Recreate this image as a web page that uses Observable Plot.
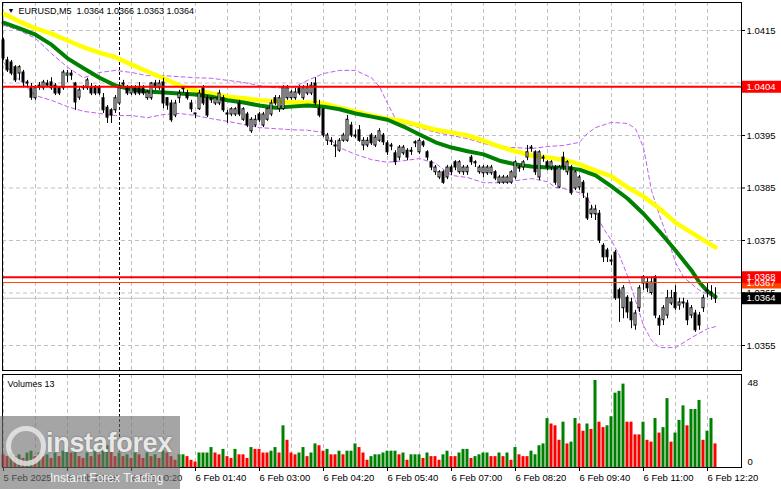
<!DOCTYPE html>
<html>
<head>
<meta charset="utf-8">
<script src="https://cdn.jsdelivr.net/npm/d3@7"></script>
<script src="https://cdn.jsdelivr.net/npm/@observablehq/plot@0.6"></script>
<style>
  body { margin: 0; background: #fff; }
  #chart { position: relative; width: 781px; height: 489px; overflow: hidden; font-family: "Liberation Sans", Arial, sans-serif; background: #fff; }
  #price { position: absolute; left: 0; top: 0; }
  #vol { position: absolute; left: 0; top: 372px; }
  #wm { position: absolute; left: 0; top: 416px; width: 180px; height: 73px; background: rgba(110,110,110,0.62); }
  #wm .logo { position: absolute; left: 6px; top: 10px; width: 30px; height: 30px; border: 5px solid rgba(235,235,235,0.8); border-radius: 50%; }
  #wm .big { position: absolute; left: 46px; top: 12px; font: bold 27px "Liberation Sans", Arial, sans-serif; color: rgba(255,255,255,0.85); text-shadow: 0 0 2px #666; letter-spacing: -0.3px; }
  #wm .small { position: absolute; left: 50px; top: 55px; font: 12px "Liberation Sans", Arial, sans-serif; color: rgba(255,255,255,0.9); }
</style>
</head>
<body>
<div id="chart">
  <div id="price"></div>
  <div id="vol"></div>
  <div id="wm"><div class="logo"></div><div class="big">instaforex</div><div class="small">Instant Forex Trading</div></div>
</div>
<script>
// ---- data (EURUSD, M5) ----
const symbolName = "EURUSD,M5";
const candleOpen = [
1.04131,1.04093,1.04089,1.04080,1.04068,1.04070,1.04051,1.04040,1.04021,1.04045,
1.04040,1.04049,1.04051,1.04045,1.04040,1.04040,1.04064,1.04068,1.04049,1.04022,
1.04040,1.04040,1.04041,1.04041,1.04041,1.04021,1.04003,1.03998,1.03998,1.04011,
1.04049,1.04040,1.04030,1.04040,1.04041,1.04040,1.04021,1.04021,1.04049,1.04040,
1.04051,1.04021,1.04011,1.03988,1.04021,1.04040,1.04030,1.04011,1.03992,1.04000,
1.04040,1.04021,1.04021,1.04011,1.04011,1.04021,1.03992,1.03990,1.03990,1.04011,
1.03980,1.03990,1.03958,1.03969,1.03990,1.03969,1.03980,1.03990,1.04021,1.04000,
1.04000,1.04021,1.04021,1.04021,1.04040,1.04021,1.04030,1.04030,1.04049,1.04001,
1.04000,1.03940,1.03940,1.03931,1.03921,1.03940,1.03940,1.03969,1.03950,1.03960,
1.03931,1.03931,1.03950,1.03931,1.03940,1.03950,1.03935,1.03931,1.03916,1.03908,
1.03916,1.03921,1.03921,1.03937,1.03918,1.03937,1.03918,1.03899,1.03880,1.03870,
1.03880,1.03870,1.03889,1.03899,1.03880,1.03880,1.03880,1.03908,1.03899,1.03880,
1.03878,1.03878,1.03878,1.03880,1.03860,1.03860,1.03860,1.03860,1.03870,1.03889,
1.03889,1.03908,1.03927,1.03918,1.03870,1.03908,1.03899,1.03889,1.03889,1.03851,
1.03908,1.03880,1.03889,1.03849,1.03851,1.03860,1.03830,1.03800,1.03800,1.03801,
1.03740,1.03731,1.03712,1.03727,1.03655,1.03621,1.03641,1.03632,1.03588,1.03621,
1.03668,1.03670,1.03650,1.03680,1.03601,1.03598,1.03607,1.03630,1.03650,1.03626,
1.03632,1.03630,1.03607,1.03611,1.03607,1.03621,1.03655,1.03651,1.03640];
const candleHigh = [
1.04135,1.04099,1.04093,1.04083,1.04083,1.04074,1.04055,1.04049,1.04045,1.04051,
1.04055,1.04055,1.04060,1.04049,1.04041,1.04074,1.04074,1.04074,1.04051,1.04041,
1.04045,1.04059,1.04049,1.04045,1.04045,1.04030,1.04007,1.04001,1.04026,1.04045,
1.04055,1.04045,1.04045,1.04045,1.04051,1.04045,1.04036,1.04051,1.04055,1.04055,
1.04059,1.04022,1.04017,1.04017,1.04036,1.04041,1.04036,1.04017,1.03992,1.04036,
1.04045,1.04026,1.04022,1.04022,1.04036,1.04026,1.03998,1.04003,1.04003,1.04017,
1.04003,1.03994,1.03984,1.03988,1.03994,1.03994,1.04003,1.04017,1.04026,1.04026,
1.04045,1.04045,1.04036,1.04040,1.04045,1.04045,1.04049,1.04051,1.04060,1.04017,
1.04001,1.03954,1.03946,1.03940,1.03944,1.03954,1.03988,1.03975,1.03960,1.03969,
1.03946,1.03946,1.03954,1.03950,1.03963,1.03954,1.03940,1.03935,1.03921,1.03931,
1.03931,1.03925,1.03927,1.03940,1.03944,1.03940,1.03921,1.03902,1.03893,1.03883,
1.03883,1.03893,1.03893,1.03902,1.03902,1.03893,1.03893,1.03912,1.03902,1.03893,
1.03893,1.03893,1.03893,1.03883,1.03874,1.03874,1.03874,1.03883,1.03902,1.03893,
1.03902,1.03931,1.03931,1.03921,1.03921,1.03912,1.03902,1.03902,1.03893,1.03893,
1.03918,1.03902,1.03893,1.03883,1.03874,1.03864,1.03840,1.03817,1.03817,1.03807,
1.03744,1.03735,1.03721,1.03731,1.03659,1.03664,1.03645,1.03640,1.03617,1.03664,
1.03683,1.03680,1.03680,1.03683,1.03607,1.03626,1.03655,1.03655,1.03664,1.03640,
1.03640,1.03636,1.03626,1.03617,1.03613,1.03646,1.03668,1.03664,1.03660];
const candleLow = [
1.04093,1.04070,1.04064,1.04051,1.04055,1.04041,1.04040,1.04017,1.04017,1.04036,
1.04036,1.04041,1.04036,1.04026,1.04026,1.04036,1.04051,1.04055,1.03998,1.04017,
1.04036,1.04036,1.04026,1.04026,1.04026,1.03992,1.03973,1.03973,1.03992,1.04007,
1.04041,1.04026,1.04026,1.04026,1.04026,1.04026,1.04017,1.04017,1.04036,1.04036,
1.04001,1.03998,1.03975,1.03984,1.04011,1.04030,1.04017,1.03994,1.03982,1.03998,
1.04007,1.03984,1.04011,1.04007,1.04007,1.03994,1.03973,1.03986,1.03986,1.03986,
1.03977,1.03965,1.03954,1.03965,1.03975,1.03965,1.03977,1.03986,1.04007,1.03994,
1.03998,1.04017,1.04017,1.04017,1.04026,1.04017,1.04026,1.04026,1.04007,1.03984,
1.03946,1.03931,1.03931,1.03908,1.03918,1.03937,1.03937,1.03946,1.03944,1.03937,
1.03921,1.03927,1.03931,1.03927,1.03937,1.03931,1.03912,1.03921,1.03893,1.03902,
1.03912,1.03902,1.03912,1.03927,1.03914,1.03927,1.03902,1.03883,1.03874,1.03866,
1.03857,1.03866,1.03874,1.03883,1.03876,1.03874,1.03874,1.03893,1.03889,1.03876,
1.03870,1.03874,1.03874,1.03864,1.03857,1.03857,1.03857,1.03857,1.03866,1.03880,
1.03883,1.03902,1.03918,1.03874,1.03864,1.03899,1.03883,1.03883,1.03855,1.03849,
1.03883,1.03874,1.03836,1.03845,1.03845,1.03830,1.03788,1.03792,1.03788,1.03744,
1.03708,1.03708,1.03702,1.03636,1.03594,1.03601,1.03601,1.03582,1.03579,1.03613,
1.03655,1.03651,1.03646,1.03601,1.03569,1.03588,1.03601,1.03626,1.03617,1.03617,
1.03621,1.03588,1.03601,1.03575,1.03579,1.03613,1.03641,1.03636,1.03630];
const candleClose = [
1.04097,1.04074,1.04068,1.04055,1.04080,1.04051,1.04049,1.04022,1.04040,1.04041,
1.04051,1.04045,1.04040,1.04030,1.04030,1.04070,1.04068,1.04064,1.04013,1.04036,
1.04041,1.04055,1.04030,1.04030,1.04030,1.03998,1.03984,1.03988,1.04021,1.04040,
1.04047,1.04030,1.04040,1.04030,1.04030,1.04030,1.04032,1.04049,1.04041,1.04049,
1.04011,1.04007,1.03979,1.04011,1.04030,1.04038,1.04021,1.04000,1.03990,1.04030,
1.04011,1.03988,1.04017,1.04021,1.04030,1.03998,1.03990,1.04000,1.04000,1.03990,
1.04000,1.03969,1.03980,1.03980,1.03979,1.03990,1.04000,1.04011,1.04011,1.04021,
1.04040,1.04040,1.04032,1.04032,1.04030,1.04040,1.04040,1.04045,1.04011,1.03988,
1.03950,1.03950,1.03938,1.03929,1.03940,1.03950,1.03980,1.03950,1.03948,1.03940,
1.03940,1.03940,1.03935,1.03946,1.03958,1.03937,1.03918,1.03929,1.03899,1.03927,
1.03927,1.03908,1.03919,1.03935,1.03940,1.03931,1.03908,1.03889,1.03889,1.03880,
1.03860,1.03889,1.03880,1.03889,1.03899,1.03889,1.03889,1.03899,1.03897,1.03889,
1.03889,1.03889,1.03889,1.03868,1.03870,1.03870,1.03870,1.03880,1.03899,1.03887,
1.03899,1.03918,1.03925,1.03880,1.03918,1.03906,1.03889,1.03899,1.03860,1.03889,
1.03889,1.03899,1.03840,1.03880,1.03870,1.03840,1.03792,1.03809,1.03809,1.03750,
1.03718,1.03718,1.03710,1.03640,1.03640,1.03659,1.03613,1.03598,1.03611,1.03659,
1.03680,1.03659,1.03670,1.03607,1.03588,1.03621,1.03640,1.03640,1.03621,1.03632,
1.03630,1.03598,1.03621,1.03579,1.03588,1.03640,1.03653,1.03649,1.03640];
const volumes = [
7,6,8,6,7, 5,8,9,6,8, 6,7,5,8,6, 9,11,8,9,6, 5,8,6,9,7, 10,12,9,6,8, 6,7,5,8,7, 5,8,6,7,5,
9,8,6,4,7, 7,6,4,3,8, 8,8,11,8,7, 10,6,5,10,7, 7,5,11,10,10, 8,8,9,11,8, 23,15,8,7,8,
11,6,8,13,12, 9,10,7,7,9, 7,9,9,13,11, 8,4,6,7,7, 8,9,9,9,7, 8,4,7,7,7, 5,8,6,6,4,
7,9,6,6,8, 10,10,5,6,7, 8,8,6,6,8, 6,8,4,11,7, 6,6,9,7,12, 13,27,24,23,15, 25,13,14,27,24,
20,24,21,48,25, 22,23,28,41,42, 46,25,25,18,18, 25,15,14,27,19, 22,38,14,19,26, 34,23,32,32,37,
15,20,27,13];
// g = volume bar drawn green, r = drawn red (groups of five bars)
const volumeUp = ("rrgrg rggrg rgrgr ggrgr rgrgr ggrrg rgrgr rgrgr grrrg " +
  "grrrg gggrr grrgr rrgrr rrggr grrrg grggr rgrrg rgggr rrggg " +
  "ggggr grggg rgrrr ggrrg ggrgg ggrrg rgrgr rrggg ggrrr grggr " +
  "rgrgr rgggg grrrr grrgr ggrgg grggg rggr").replace(/ /g, "").split("");

const fastMaIdx = [0,4,8,12,16,20,24,28,32,36,40,44,48,52,56,60,64,68,72,76,80,84,88,92,96,100,104,108,112,116,120,124,128,132,136,140,144,148,152,156,160,164,168,172,174,176,178];
const fastMa = [1.04165,1.04154,1.04142,1.04123,1.04097,1.04078,1.04060,1.04045,1.04038,1.04034,1.04032,1.04030,1.04028,1.04024,1.04017,1.04013,1.04007,1.04003,1.04005,1.04007,1.04005,1.04000,1.03992,1.03986,1.03980,1.03967,1.03952,1.03937,1.03927,1.03920,1.03914,1.03902,1.03895,1.03891,1.03889,1.03889,1.03885,1.03874,1.03853,1.03830,1.03801,1.03767,1.03731,1.03693,1.03670,1.03653,1.03643];
const slowMaIdx = [0,4,8,12,16,20,24,28,32,36,40,44,48,52,56,60,64,68,72,76,80,84,88,92,96,100,104,108,112,116,120,124,128,132,136,140,144,148,152,156,160,164,168,172,176,178];
const slowMa = [1.04182,1.04167,1.04154,1.04144,1.04131,1.04118,1.04108,1.04099,1.04085,1.04072,1.04059,1.04045,1.04036,1.04030,1.04024,1.04021,1.04017,1.04015,1.04013,1.04013,1.04011,1.04003,1.03996,1.03988,1.03982,1.03977,1.03969,1.03961,1.03956,1.03950,1.03940,1.03929,1.03920,1.03912,1.03908,1.03904,1.03895,1.03883,1.03872,1.03851,1.03834,1.03811,1.03784,1.03765,1.03746,1.03737];
const bandUpperIdx = [0,4,8,12,16,20,24,28,32,36,40,44,48,52,56,60,64,68,72,76,80,84,88,92,94,96,98,100,104,108,112,116,120,124,128,132,136,140,144,146,148,152,156,158,160,162,164,166,168,170,174,178];
const bandUpper = [1.04160,1.04150,1.04135,1.04106,1.04080,1.04060,1.04070,1.04074,1.04070,1.04064,1.04064,1.04062,1.04060,1.04059,1.04055,1.04051,1.04045,1.04041,1.04040,1.04055,1.04068,1.04074,1.04074,1.04060,1.04043,1.04011,1.03982,1.03973,1.03965,1.03956,1.03950,1.03944,1.03935,1.03927,1.03927,1.03925,1.03929,1.03931,1.03937,1.03954,1.03965,1.03975,1.03973,1.03963,1.03927,1.03845,1.03798,1.03756,1.03708,1.03680,1.03655,1.03640];
const bandLowerIdx = [0,4,8,12,16,20,24,28,32,36,40,44,48,52,56,60,64,68,72,76,80,82,84,88,92,96,100,104,108,112,116,120,124,128,132,136,138,140,144,146,148,150,152,154,156,158,160,162,164,168,172,176,178];
const bandLower = [1.04089,1.04055,1.04026,1.04017,1.04005,1.03996,1.03992,1.03988,1.03988,1.03984,1.03990,1.03992,1.03988,1.03982,1.03977,1.03971,1.03965,1.03963,1.03961,1.03960,1.03956,1.03940,1.03927,1.03914,1.03904,1.03899,1.03902,1.03906,1.03897,1.03874,1.03870,1.03860,1.03860,1.03864,1.03868,1.03862,1.03851,1.03849,1.03841,1.03830,1.03803,1.03773,1.03750,1.03721,1.03683,1.03636,1.03588,1.03560,1.03546,1.03546,1.03565,1.03582,1.03586];

const priceTicks = [1.0355,1.0365,1.0375,1.0385,1.0395,1.0405,1.0415];
const hiddenPriceLabels = [1.0405];
const gridIdx = [0,8,16,24,32,40,48,56,64,72,80,88,96,104,112,120,128,136,144,152,160,168,176];
const timeIdx = [0,16,32,48,64,80,96,112,128,144,160,176];
const timeLabels = ["5 Feb 2025","5 Feb 22:55","6 Feb 00:20","6 Feb 01:40","6 Feb 03:00","6 Feb 04:20","6 Feb 05:40","6 Feb 07:00","6 Feb 08:20","6 Feb 09:40","6 Feb 11:00","6 Feb 12:20"];
const daySeparatorIdx = [29];
const levelPrices = [1.04043, 1.0367, 1.0368];
const levelColors = ["#ff0000", "#ff4500", "#ff0000"];
const levelWidths = [2, 1, 2];
const volumeMax = 48;

// ---- build tables ----
const n = candleClose.length;
const last = n - 1;
const candles = d3.range(n).map(i => ({i, o: candleOpen[i], h: candleHigh[i], l: candleLow[i], c: candleClose[i]}));
const vols = d3.range(n).map(i => ({i, v: volumes[i], color: volumeUp[i] === "g" ? "#008000" : "#ff0000"}));
const pts = (idx, vals) => idx.map((x, k) => ({x, y: vals[k]}));
const levels = levelPrices.map((p, k) => ({p, color: levelColors[k], w: levelWidths[k]}));
const bid = [{p: candleClose[last], color: "#000000"}];
const fmt = d => d.toFixed(4);
const font = "Liberation Sans, Arial, sans-serif";
const gridStyle = {stroke: "#c0c0c0", strokeDasharray: "4,3", strokeWidth: 1};

const title = `${symbolName}  ${fmt(candleOpen[last])} ${fmt(candleHigh[last])} ${fmt(candleLow[last])} ${fmt(candleClose[last])}`;

const price = Plot.plot({
  width: 781, height: 372,
  marginLeft: 2, marginRight: 40, marginTop: 2, marginBottom: 2,
  x: {domain: [-0.25, 184.5], axis: null},
  y: {domain: [1.0350238, 1.0420333]},
  color: {type: "identity"},
  style: {fontFamily: font, fontSize: "9.5px", background: "white", color: "black"},
  marks: [
    Plot.ruleY(priceTicks, gridStyle),
    Plot.ruleX(gridIdx, gridStyle),
    Plot.ruleX(daySeparatorIdx, {stroke: "black", strokeDasharray: "3,2"}),
    Plot.ruleY(bid, {y: "p", stroke: "#c0c0c0"}),
    Plot.line(pts(bandUpperIdx, bandUpper), {x: "x", y: "y", stroke: "#bf5fef", strokeDasharray: "4,3", strokeWidth: 1}),
    Plot.line(pts(bandLowerIdx, bandLower), {x: "x", y: "y", stroke: "#bf5fef", strokeDasharray: "4,3", strokeWidth: 1}),
    Plot.line(pts(slowMaIdx, slowMa), {x: "x", y: "y", stroke: "#ffff00", strokeWidth: 4.5}),
    Plot.line(pts(fastMaIdx, fastMa), {x: "x", y: "y", stroke: "#008000", strokeWidth: 4}),
    Plot.ruleX(candles, {x: "i", y1: "l", y2: "h", stroke: "black"}),
    Plot.rect(candles, {x1: d => d.i - 0.25, x2: d => d.i + 0.25, y1: "o", y2: "c", fill: d => d.c > d.o ? "white" : "black", stroke: "black"}),
    Plot.ruleY(candles.filter(d => Math.abs(d.c - d.o) < 0.00001), {y: "c", x1: d => d.i - 0.375, x2: d => d.i + 0.375, stroke: "black"}),
    Plot.ruleY(levels, {y: "p", stroke: "color", strokeWidth: "w"}),
    Plot.frame({stroke: "black"}),
    Plot.axisY(priceTicks, {anchor: "right", tickFormat: d => hiddenPriceLabels.some(h => Math.abs(h - d) < 1e-9) ? "" : fmt(d), tickSize: 3, tickPadding: 2, fontSize: 9.5}),
    Plot.ruleY(levels, {y: "p", stroke: "color", strokeWidth: 12, dx: 740}),
    Plot.text(levels, {y: "p", text: d => fmt(d.p), frameAnchor: "right", dx: 5, textAnchor: "start", fill: "white", fontSize: 9.5}),
    Plot.ruleY(bid, {y: "p", stroke: "color", strokeWidth: 12, dx: 740}),
    Plot.text(bid, {y: "p", text: d => fmt(d.p), frameAnchor: "right", dx: 5, textAnchor: "start", fill: "white", fontSize: 9.5}),
    Plot.text(["\u25BC"], {frameAnchor: "top-left", dx: 5, dy: 6, lineAnchor: "top", textAnchor: "start", fontSize: 7, fill: "black"}),
    Plot.text([title], {frameAnchor: "top-left", dx: 16, dy: 5, lineAnchor: "top", textAnchor: "start", fontSize: 9, fill: "black"})
  ]
});
document.getElementById("price").appendChild(price);

const vol = Plot.plot({
  width: 781, height: 117,
  marginLeft: 2, marginRight: 40, marginTop: 2, marginBottom: 22,
  x: {domain: [-0.25, 184.5]},
  y: {domain: [0, 51.31], axis: null},
  color: {type: "identity"},
  style: {fontFamily: font, fontSize: "9.5px", background: "white", color: "black"},
  marks: [
    Plot.ruleX(gridIdx, gridStyle),
    Plot.ruleX(daySeparatorIdx, {stroke: "black", strokeDasharray: "3,2"}),
    Plot.rect(vols, {x1: d => d.i - 0.375, x2: d => d.i + 0.375, y1: d => 0, y2: "v", fill: "color"}),
    Plot.frame({stroke: "black"}),
    Plot.axisX(timeIdx, {anchor: "bottom", tickFormat: d => timeLabels[timeIdx.indexOf(d)], textAnchor: "start", tickSize: 4, tickPadding: 3, fontSize: 9.5}),
    Plot.text([volumeMax], {y: d => d, text: d => String(d), frameAnchor: "right", dx: 6, dy: 2, textAnchor: "start", fontSize: 9.5, fill: "black"}),
    Plot.text([0], {y: d => d, text: d => String(d), frameAnchor: "right", dx: 6, dy: -6, textAnchor: "start", fontSize: 9.5, fill: "black"}),
    Plot.text([`Volumes ${volumes[last]}`], {frameAnchor: "top-left", dx: 5, dy: 6, lineAnchor: "top", textAnchor: "start", fontSize: 9, fill: "black"})
  ]
});
document.getElementById("vol").appendChild(vol);
</script>
</body>
</html>
